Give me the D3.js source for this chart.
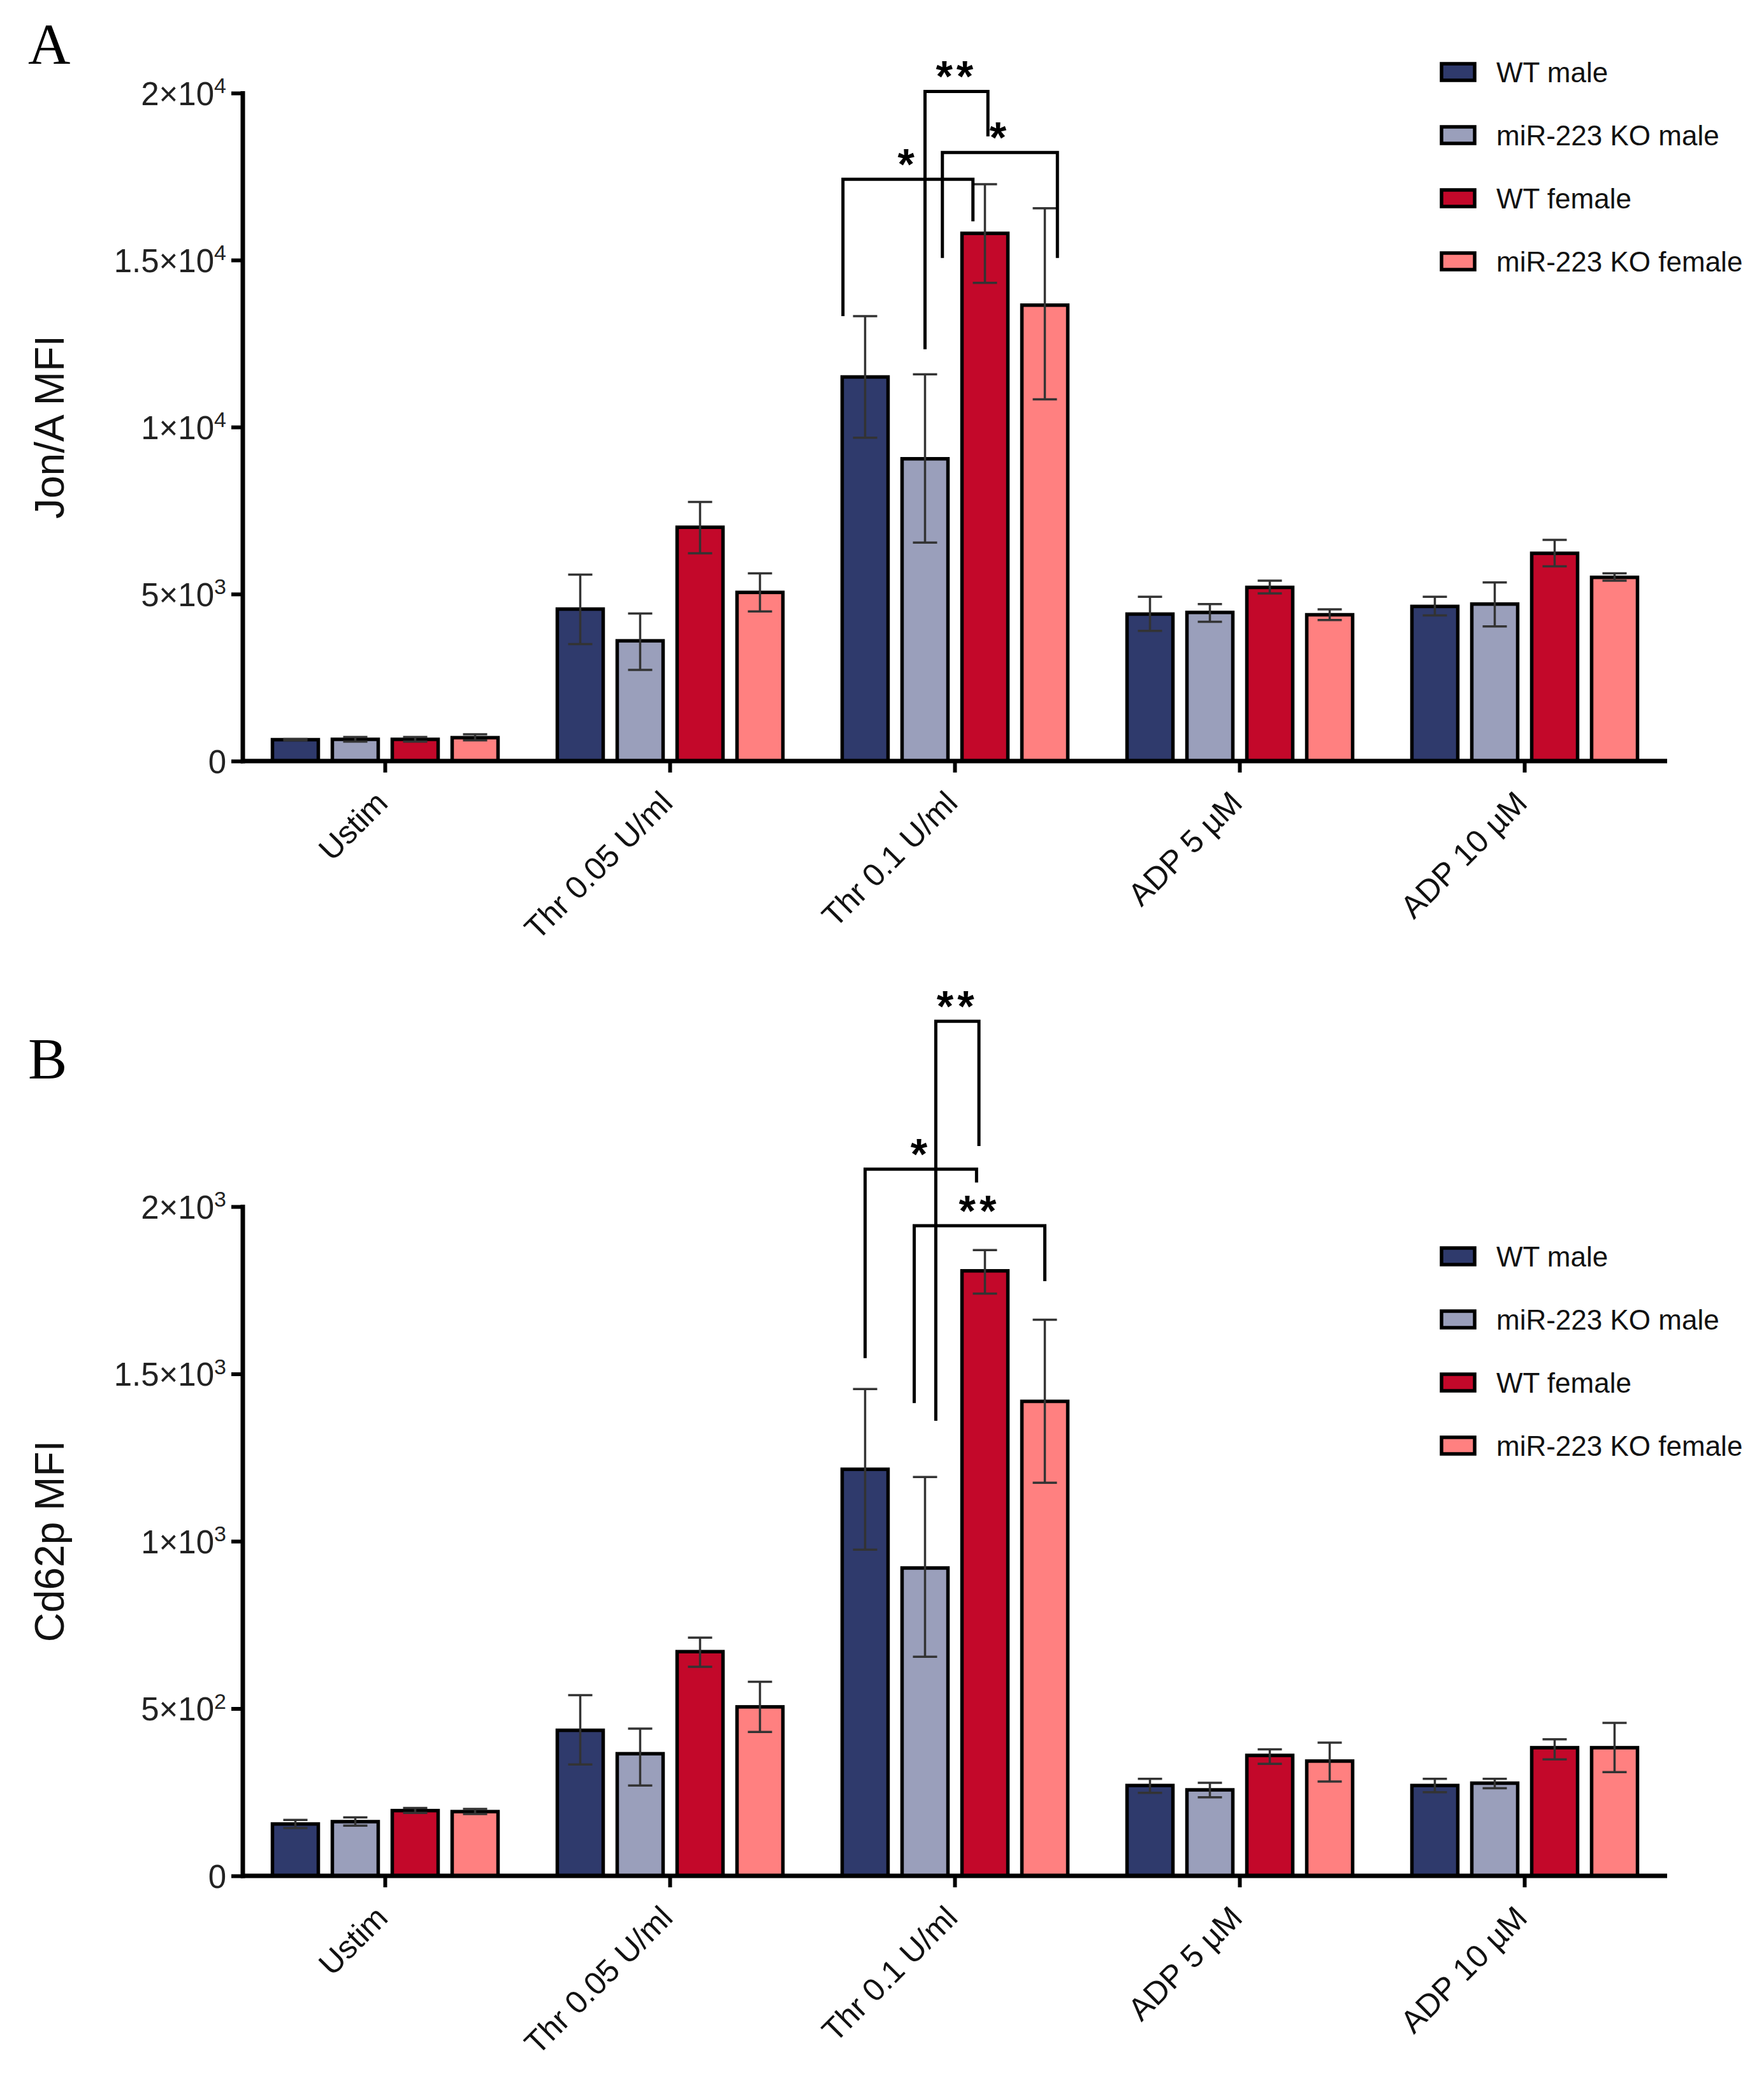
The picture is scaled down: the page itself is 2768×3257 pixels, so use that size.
<!DOCTYPE html>
<html>
<head>
<meta charset="utf-8">
<script src="https://cdn.jsdelivr.net/npm/d3@7"></script>
<style>
  body { margin: 0; background: #fff; }
  svg text { font-family: "Liberation Sans", Arial, sans-serif; }
</style>
</head>
<body>
<div id="chart"></div>
<script>
var W = 2768, H = 3257;

// ---- data ----
var categories = ["Ustim", "Thr 0.05 U/ml", "Thr 0.1 U/ml", "ADP 5 \u00b5M", "ADP 10 \u00b5M"];
var groups = ["WT male", "miR-223 KO male", "WT female", "miR-223 KO female"];
var colors = ["#2f3a6c", "#9a9fbb", "#c3082a", "#ff8080"];

// Jon/A MFI: mean, upper error, lower error (per category, per group)
var jonaMean = [
  [640, 650, 650, 700],
  [4550, 3600, 7000, 5050],
  [11500, 9050, 15800, 13650],
  [4400, 4450, 5200, 4380],
  [4630, 4700, 6220, 5500]
];
var jonaHi = [
  [660, 720, 720, 800],
  [5580, 4420, 7760, 5620],
  [13320, 11580, 17270, 16550],
  [4920, 4700, 5400, 4540],
  [4920, 5350, 6620, 5620]
];
var jonaLo = [
  [620, 580, 580, 620],
  [3500, 2730, 6220, 4480],
  [9680, 6540, 14320, 10830],
  [3900, 4170, 5020, 4220],
  [4360, 4030, 5830, 5400]
];

// Cd62p MFI
var cd62Mean = [
  [155, 162, 195, 192],
  [435, 365, 670, 505],
  [1215, 920, 1808, 1418],
  [270, 257, 360, 343],
  [270, 277, 383, 383]
];
var cd62Hi = [
  [167, 175, 203, 200],
  [540, 440, 712, 580],
  [1455, 1192, 1870, 1662],
  [290, 278, 378, 398],
  [290, 290, 408, 457]
];
var cd62Lo = [
  [143, 150, 188, 185],
  [333, 270, 625, 430],
  [975, 655, 1740, 1175],
  [248, 235, 335, 282],
  [250, 262, 348, 310]
];

var yTicksA = [0, 5000, 10000, 15000, 20000];
var yTickLabelsA = [["0", ""], ["5\u00d710", "3"], ["1\u00d710", "4"], ["1.5\u00d710", "4"], ["2\u00d710", "4"]];
var yTicksB = [0, 500, 1000, 1500, 2000];
var yTickLabelsB = [["0", ""], ["5\u00d710", "2"], ["1\u00d710", "3"], ["1.5\u00d710", "3"], ["2\u00d710", "3"]];

// significance brackets: bar index + fractional offset (in bar steps), heights in data units
var sigA = [
  { cat: 2, a: 1, aOff: 0.0, b: 2, bOff: 0.05, top: 20050, aEnd: 12330, bEnd: 18700, label: "**" },
  { cat: 2, a: 1, aOff: 0.29, b: 3, bOff: 0.21, top: 18220, aEnd: 15060, bEnd: 15060, label: "*" },
  { cat: 2, a: 0, aOff: -0.37, b: 2, bOff: -0.2, top: 17420, aEnd: 13320, bEnd: 16160, label: "*" }
];
var sigB = [
  { cat: 2, a: 1, aOff: 0.18, b: 2, bOff: -0.1, top: 2554, aEnd: 1360, bEnd: 2181, label: "**" },
  { cat: 2, a: 0, aOff: 0.0, b: 2, bOff: -0.14, top: 2112, aEnd: 1547, bEnd: 2072, label: "*" },
  { cat: 2, a: 1, aOff: -0.18, b: 3, bOff: 0.0, top: 1943, aEnd: 1413, bEnd: 1777, label: "**" }
];

// ---- layout ----
var svg = d3.select("#chart").append("svg")
  .attr("width", W).attr("height", H)
  .attr("viewBox", "0 0 " + W + " " + H);

svg.append("rect").attr("width", W).attr("height", H).attr("fill", "#fff");

var x0 = d3.scaleBand().domain(categories).range([381, 2616]).padding(0);
var x1 = d3.scaleBand().domain(groups).range([-188, 188])
  .paddingInner(22 / 94).paddingOuter(11 / 94);

function barCenter(ci, gi, off) {
  return x0(categories[ci]) + x0.bandwidth() / 2 + x1(groups[gi]) + x1.bandwidth() / 2 + off * x1.step();
}

function drawPanel(opt) {
  var y = d3.scaleLinear().domain([0, opt.max]).range([opt.bottom, opt.top]);
  var g = svg.append("g");

  // panel letter
  g.append("text")
    .attr("x", 44).attr("y", opt.letterY)
    .style("font-family", "'Liberation Serif', 'DejaVu Serif', serif")
    .style("font-size", "92px")
    .text(opt.letter);

  // bars
  var rows = [];
  categories.forEach(function(c, ci) {
    groups.forEach(function(gr, gi) {
      rows.push({ ci: ci, gi: gi, v: opt.mean[ci][gi], hi: opt.hi[ci][gi], lo: opt.lo[ci][gi] });
    });
  });

  g.selectAll(".bar").data(rows).enter().append("rect")
    .attr("class", "bar")
    .attr("x", function(d) { return x0(categories[d.ci]) + x0.bandwidth() / 2 + x1(groups[d.gi]); })
    .attr("width", x1.bandwidth())
    .attr("y", function(d) { return y(d.v); })
    .attr("height", function(d) { return y(0) - y(d.v); })
    .attr("fill", function(d) { return colors[d.gi]; })
    .attr("stroke", "#000")
    .attr("stroke-width", 5.5);

  // error bars
  var capW = 38;
  var eb = g.selectAll(".err").data(rows).enter().append("g")
    .attr("class", "err")
    .attr("stroke", "#333")
    .attr("stroke-width", 3.5);
  eb.append("line")
    .attr("x1", function(d) { return barCenter(d.ci, d.gi, 0); })
    .attr("x2", function(d) { return barCenter(d.ci, d.gi, 0); })
    .attr("y1", function(d) { return y(d.hi); })
    .attr("y2", function(d) { return y(d.lo); });
  eb.append("line")
    .attr("x1", function(d) { return barCenter(d.ci, d.gi, 0) - capW / 2; })
    .attr("x2", function(d) { return barCenter(d.ci, d.gi, 0) + capW / 2; })
    .attr("y1", function(d) { return y(d.hi); })
    .attr("y2", function(d) { return y(d.hi); });
  eb.append("line")
    .attr("x1", function(d) { return barCenter(d.ci, d.gi, 0) - capW / 2; })
    .attr("x2", function(d) { return barCenter(d.ci, d.gi, 0) + capW / 2; })
    .attr("y1", function(d) { return y(d.lo); })
    .attr("y2", function(d) { return y(d.lo); });

  // y axis
  var yAxis = g.append("g")
    .attr("transform", "translate(381,0)")
    .call(d3.axisLeft(y).tickValues(opt.ticks).tickSize(18).tickSizeOuter(0).tickFormat(""));
  yAxis.select(".domain").attr("stroke", "#000").attr("stroke-width", 7)
    .attr("d", "M0," + (opt.bottom + 3.5) + "V" + (opt.top - 3));
  yAxis.selectAll(".tick line").attr("stroke", "#000").attr("stroke-width", 6).attr("x2", -18);
  yAxis.selectAll(".tick").each(function(d, i) {
    var lab = opt.tickLabels[i];
    var t = d3.select(this).append("text")
      .attr("x", -26).attr("y", 0).attr("dy", "0.36em")
      .attr("fill", "#222").attr("text-anchor", "end")
      .style("font-size", "51px");
    t.append("tspan").text(lab[0]);
    if (lab[1]) {
      t.append("tspan").attr("dy", "-0.55em").style("font-size", "34px").text(lab[1]);
    }
  });

  // x axis
  var xAxis = g.append("g")
    .attr("transform", "translate(0," + opt.bottom + ")")
    .call(d3.axisBottom(x0).tickSize(18).tickSizeOuter(0).tickFormat(""));
  xAxis.select(".domain").attr("stroke", "#000").attr("stroke-width", 7)
    .attr("d", "M378,0H2616");
  xAxis.selectAll(".tick line").attr("stroke", "#000").attr("stroke-width", 6);
  xAxis.selectAll(".tick").append("text")
    .attr("transform", "translate(-18,44) rotate(-45)")
    .attr("text-anchor", "end")
    .attr("dy", "0.7em")
    .attr("fill", "#111")
    .style("font-size", "50px")
    .text(function(d) { return d; });

  // y title
  g.append("text")
    .attr("transform", "translate(" + 100 + "," + ((opt.top + opt.bottom) / 2) + ") rotate(-90)")
    .attr("text-anchor", "middle")
    .style("font-size", "64px")
    .attr("fill", "#111")
    .text(opt.title);

  // significance brackets
  var sg = g.selectAll(".sig").data(opt.sig).enter().append("g").attr("class", "sig");
  sg.append("path")
    .attr("fill", "none").attr("stroke", "#000").attr("stroke-width", 5)
    .attr("d", function(d) {
      var xa = barCenter(d.cat, d.a, d.aOff), xb = barCenter(d.cat, d.b, d.bOff);
      return "M" + xa + "," + y(d.aEnd) + "V" + y(d.top) + "H" + xb + "V" + y(d.bEnd);
    });
  sg.append("text")
    .attr("x", function(d) { return (barCenter(d.cat, d.a, d.aOff) + barCenter(d.cat, d.b, d.bOff)) / 2; })
    .attr("y", function(d) { return y(d.top); })
    .attr("text-anchor", "middle")
    .style("font-size", "68px")
    .style("font-weight", "bold")
    .style("letter-spacing", "6px")
    .text(function(d) { return d.label; });

  // legend
  var lg = g.selectAll(".leg").data(groups).enter().append("g")
    .attr("class", "leg")
    .attr("transform", function(d, i) { return "translate(2262," + (opt.legendY + i * 99) + ")"; });
  lg.append("rect")
    .attr("x", 0).attr("y", -13).attr("width", 52).attr("height", 26)
    .attr("fill", function(d, i) { return colors[i]; })
    .attr("stroke", "#000").attr("stroke-width", 5.5);
  lg.append("text")
    .attr("x", 86).attr("y", 0).attr("dy", "0.36em")
    .style("font-size", "44px")
    .attr("fill", "#111")
    .text(function(d) { return d; });
}

drawPanel({
  letter: "A", letterY: 100, top: 146, bottom: 1194, max: 20000,
  mean: jonaMean, hi: jonaHi, lo: jonaLo,
  ticks: yTicksA, tickLabels: yTickLabelsA,
  title: "Jon/A MFI", sig: sigA, legendY: 113
});

drawPanel({
  letter: "B", letterY: 1692, top: 1893, bottom: 2943, max: 2000,
  mean: cd62Mean, hi: cd62Hi, lo: cd62Lo,
  ticks: yTicksB, tickLabels: yTickLabelsB,
  title: "Cd62p MFI", sig: sigB, legendY: 1971
});
</script>
</body>
</html>
